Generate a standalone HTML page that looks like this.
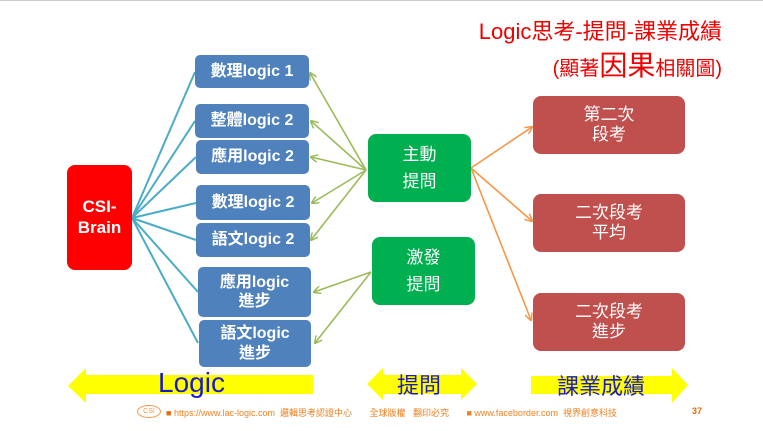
<!DOCTYPE html>
<html><head><meta charset="utf-8"><style>
html,body{margin:0;padding:0;background:#fff;}
body{width:763px;height:431px;position:relative;overflow:hidden;font-family:"Liberation Sans","Noto Sans CJK TC",sans-serif;}
.b{position:absolute;border-radius:6px;color:#fff;display:flex;align-items:center;justify-content:center;text-align:center;font-weight:bold;line-height:1.2;}
.blue{background:#4f81bd;font-size:16px;border-radius:5px;}
.green{background:#00b050;font-size:17px;line-height:1.6;border-radius:8px;font-weight:normal;}
.red{background:#c0504d;font-size:17px;font-weight:normal;border-radius:8px;}
.t{position:absolute;}
</style></head><body>
<div style="position:absolute;left:0;top:0;width:763px;height:1px;background:#ccc"></div>
<svg width="763" height="431" style="position:absolute;left:0;top:0">
<defs>
<marker id="g" markerWidth="8" markerHeight="8" refX="7" refY="4" orient="auto" markerUnits="userSpaceOnUse"><path d="M0,0 L8,4 L0,8" fill="none" stroke="#9bbb59" stroke-width="1.5"/></marker>
<marker id="o" markerWidth="8" markerHeight="8" refX="7" refY="4" orient="auto" markerUnits="userSpaceOnUse"><path d="M0,0 L8,4 L0,8" fill="none" stroke="#f79646" stroke-width="1.5"/></marker>
</defs>
<g stroke="#4bacc6" stroke-width="2">
<line x1="132" y1="218" x2="195" y2="72"/>
<line x1="132" y1="218" x2="195" y2="121"/>
<line x1="132" y1="218" x2="196" y2="157"/>
<line x1="132" y1="218" x2="196" y2="203"/>
<line x1="132" y1="218" x2="196" y2="240"/>
<line x1="132" y1="218" x2="198" y2="292"/>
<line x1="132" y1="218" x2="198" y2="343"/>
</g>
<g stroke="#9bbb59" stroke-width="1.6" marker-end="url(#g)">
<line x1="366" y1="170" x2="310" y2="73"/>
<line x1="366" y1="170" x2="311" y2="121"/>
<line x1="366" y1="170" x2="311" y2="157"/>
<line x1="366" y1="170" x2="312" y2="203"/>
<line x1="366" y1="170" x2="311" y2="240"/>
<line x1="371" y1="272" x2="314" y2="292"/>
<line x1="371" y1="272" x2="315" y2="343"/>
</g>
<g stroke="#f79646" stroke-width="1.6" marker-end="url(#o)">
<line x1="471" y1="168" x2="532" y2="127"/>
<line x1="471" y1="168" x2="532" y2="221"/>
<line x1="471" y1="168" x2="531" y2="320"/>
</g>
<g fill="#ffff00">
<polygon points="68,386 86,368 86,375 313,375 313,394 86,394 86,403"/>
<polygon points="367,384 383,368 383,375 461,375 461,368 477,384 461,400 461,394 383,394 383,400"/>
<polygon points="531,376 672,376 672,368 688,385 672,403 672,394 531,394"/>
</g>
</svg>
<div class="t" style="left:380px;top:14px;width:342px;text-align:right;color:#e00;font-size:22px;">Logic思考-提問-課業成績</div>
<div class="t" style="left:380px;top:44px;width:342px;text-align:right;color:#e00;font-size:20px;">(顯著<span style="font-size:28px">因果</span>相關圖)</div>
<div class="b" style="left:67px;top:165px;width:65px;height:105px;background:#ff0000;font-size:17px;border-radius:8px;">CSI-<br>Brain</div>
<div class="b blue" style="left:195px;top:55px;width:114px;height:33px">數理logic 1</div>
<div class="b blue" style="left:195px;top:104px;width:114px;height:34px">整體logic 2</div>
<div class="b blue" style="left:196px;top:140px;width:113px;height:34px">應用logic 2</div>
<div class="b blue" style="left:196px;top:185px;width:114px;height:35px">數理logic 2</div>
<div class="b blue" style="left:196px;top:223px;width:114px;height:34px">語文logic 2</div>
<div class="b blue" style="left:198px;top:267px;width:113px;height:50px">應用logic<br>進步</div>
<div class="b blue" style="left:199px;top:320px;width:112px;height:47px">語文logic<br>進步</div>
<div class="b green" style="left:368px;top:134px;width:103px;height:68px">主動<br>提問</div>
<div class="b green" style="left:372px;top:237px;width:103px;height:68px">激發<br>提問</div>
<div class="b red" style="left:533px;top:96px;width:152px;height:58px">第二次<br>段考</div>
<div class="b red" style="left:533px;top:194px;width:152px;height:58px">二次段考<br>平均</div>
<div class="b red" style="left:533px;top:293px;width:152px;height:58px">二次段考<br>進步</div>
<div class="t" style="left:158px;top:367px;color:#1a1acc;font-size:28px;">Logic</div>
<div class="t" style="left:397px;top:368px;color:#1a1acc;font-size:22px;">提問</div>
<div class="t" style="left:557px;top:369px;color:#1a1acc;font-size:22px;">課業成績</div>
<div class="t" style="left:137px;top:405px;width:22px;height:11px;border:1.5px solid #f79646;border-radius:50%;font-size:7px;color:#f79646;text-align:center;line-height:11px;">CSI</div>
<div class="t" style="left:166px;top:406px;font-size:9px;color:#f0801f;white-space:nowrap;"><span style="color:#e36c09">■</span> https://www.lac-logic.com &nbsp;邏輯思考認證中心 &nbsp;&nbsp;&nbsp;&nbsp;&nbsp;&nbsp;全球版權 &nbsp;&nbsp;翻印必究 &nbsp;&nbsp;&nbsp;&nbsp;&nbsp;&nbsp;■ www.faceborder.com &nbsp;視界創意科技</div>
<div class="t" style="left:466px;top:406px;"></div>
<div class="t" style="left:469px;top:406px;font-size:9px;color:#e36c09;"></div>
<div class="t" style="left:692px;top:406px;font-size:9px;color:#e36c09;font-weight:bold;">37</div>
</body></html>
